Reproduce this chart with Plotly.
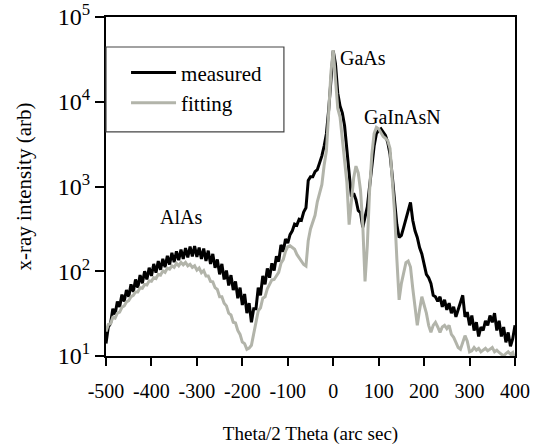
import plotly.graph_objects as go

# Theta/2Theta positions (arc sec)
theta = list(range(-500, 401, 5))

measured = [
    14, 22, 24, 36, 31, 44, 38, 53, 44, 60,           # -500 .. -455
    50, 70, 57, 80, 64, 90, 72, 100, 80, 110,         # -450 .. -405
    88, 122, 96, 132, 104, 140, 112, 152, 120, 165,   # -400 .. -355
    128, 172, 135, 180, 140, 188, 146, 195, 150, 198, # -350 .. -305
    148, 190, 140, 185, 132, 175, 122, 160, 110, 138, # -300 .. -255
    92, 122, 80, 102, 68, 90, 60, 76, 48, 64,         # -250 .. -205
    40, 54, 32, 42, 25, 36, 36, 64, 52, 88,           # -200 .. -155
    70, 108, 84, 124, 102, 150, 130, 205, 170, 240,   # -150 .. -105
    215, 270, 300, 360, 350, 410, 400, 500, 560, 1180, # -100 .. -55
    1300, 1300, 1500, 1580, 1900, 2300, 3000, 4200, 8000, 20000,  # -50 .. -5
    40000, 28000, 12600, 8900, 7400, 5200, 2800, 1260, 760, 830,  # 0 .. 45
    700, 520, 490, 330, 420, 575, 1000, 1780, 3000, 4200,         # 50 .. 95
    4600, 4800, 4400, 4000, 3300, 2400, 1320, 660, 355, 250,      # 100 .. 145
    265, 330, 420, 550, 650, 400, 300, 250, 190, 160,             # 150 .. 195
    115, 92, 84, 72, 52, 50, 44, 50, 38, 46,                      # 200 .. 245
    35, 42, 32, 38, 29, 35, 42, 52, 29, 33,                       # 250 .. 295
    23, 30, 20, 25, 17, 22, 20, 26, 23, 30,                       # 300 .. 345
    25, 32, 20, 26, 17, 22, 14.5, 19, 13, 16,                     # 350 .. 395
    23,                                                            # 400
]

fitting = [
    19.5, 23.5, 24, 28.5, 28, 32, 33, 37.5, 39, 43.5,   # -500 .. -455
    45, 50, 52, 57, 57, 64, 63, 70, 69, 77,             # -450 .. -405
    76, 84, 82, 92, 90, 101, 97, 109, 106, 116,         # -400 .. -355
    111, 124, 116, 127, 119, 127, 116, 121, 111, 116,   # -350 .. -305
    103, 109, 96, 102, 88, 88, 76, 75, 64, 61,          # -300 .. -255
    50, 50, 42, 39, 32, 30.5, 25, 24.5, 20, 18,         # -250 .. -205
    14.6, 14, 12, 12.4, 13.4, 18.5, 24, 34, 37, 48,     # -200 .. -155
    50, 62, 70, 79, 80, 90, 97, 124, 137, 172,          # -150 .. -105
    195, 200, 190, 182, 158, 145, 132, 120, 115, 230,   # -100 .. -55
    316, 380, 457, 660, 830, 1050, 1780, 2630, 7400, 22400,  # -50 .. -5
    40700, 15800, 8300, 6600, 3800, 2000, 1120, 355, 630, 1260,  # 0 .. 45
    1740, 1450, 910, 355, 76, 200, 890, 2400, 4200, 5000,        # 50 .. 95
    4800, 4300, 3900, 3700, 3470, 2800, 1260, 500, 141, 46,      # 100 .. 145
    72, 95, 126, 132, 112, 63, 35, 23, 35, 50,                   # 150 .. 195
    40, 32, 23, 19, 23, 25, 22, 19, 22, 23,                      # 200 .. 245
    21, 23, 18, 16.6, 14.5, 12.6, 12, 14.5, 17.4, 15,            # 250 .. 295
    11.2, 11.5, 12.6, 11.7, 12.3, 11.2, 11.7, 12.3, 11.5, 12,    # 300 .. 345
    12.6, 11.2, 11.7, 11, 10.5, 10, 10.7, 11.2, 10.5, 11,        # 350 .. 395
    9,                                                            # 400
]

y_tickvals = [10, 100, 1000, 10000, 100000]
y_ticktext = ["10<sup>1</sup>", "10<sup>2</sup>", "10<sup>3</sup>", "10<sup>4</sup>", "10<sup>5</sup>"]
x_tickvals = [-500, -400, -300, -200, -100, 0, 100, 200, 300, 400]
x_ticktext = ["-500", "-400", "-300", "-200", "-100", "0", "100", "200", "300", "400"]

FONT = "Liberation Serif, Times New Roman, serif"
GRAY = "#b2b4aa"

fig = go.Figure()
fig.add_trace(go.Scatter(x=theta, y=measured, mode="lines", name="measured",
                         line=dict(color="black", width=3)))
fig.add_trace(go.Scatter(x=theta, y=fitting, mode="lines", name="fitting",
                         line=dict(color=GRAY, width=3)))

fig.update_layout(
    width=537, height=447,
    margin=dict(l=106, r=22, t=17, b=91),
    paper_bgcolor="white", plot_bgcolor="white",
    font=dict(family=FONT, size=20, color="black"),
    showlegend=True,
    legend=dict(x=0.049, y=0.896, xanchor="left", yanchor="top",
                bgcolor="rgba(0,0,0,0)", borderwidth=0,
                font=dict(family=FONT, size=21, color="black"),
                tracegroupgap=0, itemwidth=45),
    xaxis=dict(range=[-500, 400], tickvals=x_tickvals, ticktext=x_ticktext,
               ticks="outside", ticklen=8, tickwidth=2, tickcolor="black",
               ticklabelstandoff=8, automargin=False,
               showline=True, linecolor="black", linewidth=2, mirror=True,
               showgrid=False, zeroline=False,
               tickfont=dict(family=FONT, size=20),
               title=dict(text="Theta/2 Theta (arc sec)", standoff=26,
                          font=dict(family=FONT, size=19))),
    yaxis=dict(type="log", range=[1, 5], tickvals=y_tickvals, ticktext=y_ticktext,
               ticks="outside", ticklen=9, tickwidth=2, tickcolor="black",
               automargin=False,
               showline=True, linecolor="black", linewidth=2, mirror=True,
               showgrid=False, zeroline=False,
               tickfont=dict(family=FONT, size=24),
               title=dict(text="x-ray intensity (arb)", standoff=20,
                          font=dict(family=FONT, size=21))),
    shapes=[dict(type="rect", xref="paper", yref="paper",
                 x0=0.0, x1=0.435, y0=0.661, y1=0.9115,
                 line=dict(color="#444444", width=1.2))],
    annotations=[
        dict(x=11, y=4.52, text="GaAs", showarrow=False, xanchor="left",
             font=dict(family=FONT, size=20)),
        dict(x=64, y=3.82, text="GaInAsN", showarrow=False, xanchor="left",
             font=dict(family=FONT, size=20)),
        dict(x=-336, y=2.64, text="AlAs", showarrow=False, xanchor="center",
             font=dict(family=FONT, size=20)),
    ],
)

fig.write_html("out.html")
